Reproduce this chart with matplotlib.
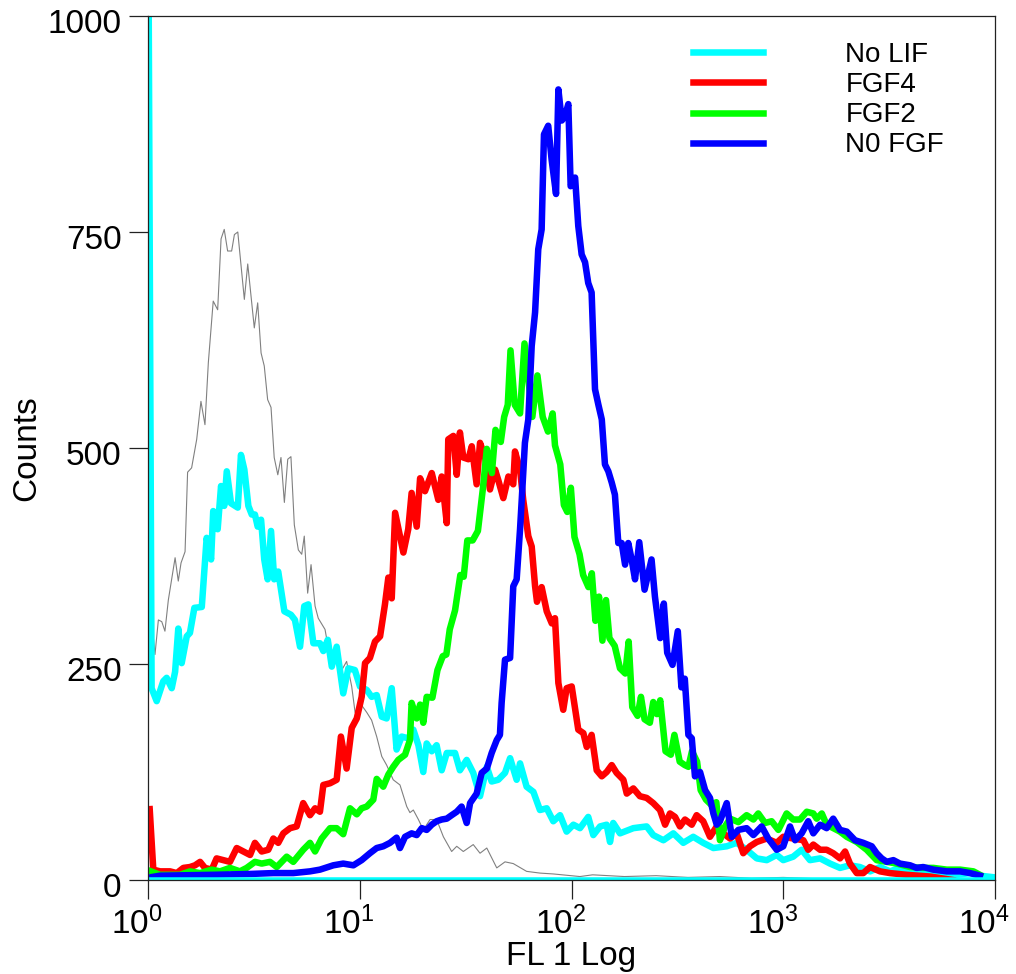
import matplotlib
matplotlib.use("Agg")
import matplotlib.pyplot as plt
import matplotlib.transforms as mtransforms
from matplotlib.ticker import FixedLocator, FuncFormatter
import numpy as np

plt.rcParams['font.family'] = ['Liberation Sans', 'DejaVu Sans']

# log10(FL1) positions and counts
gray_log = [0.0, 0.017, 0.033, 0.049, 0.065, 0.080, 0.096, 0.128, 0.143, 0.156,
            0.175, 0.187, 0.206, 0.230, 0.250, 0.269, 0.285, 0.308, 0.329, 0.345,
            0.360, 0.376, 0.395, 0.408, 0.424, 0.455, 0.471, 0.502, 0.518, 0.534,
            0.549, 0.565, 0.581, 0.596, 0.613, 0.628, 0.644, 0.660, 0.675, 0.691,
            0.710, 0.726, 0.738, 0.754, 0.770, 0.789, 0.804, 0.836, 0.860, 0.880,
            0.896, 0.915, 0.938, 0.962, 0.978, 1.001, 1.033, 1.056, 1.080, 1.104,
            1.127, 1.158, 1.190, 1.222, 1.237, 1.253, 1.277, 1.300, 1.332, 1.363,
            1.395, 1.434, 1.458, 1.489, 1.536, 1.568, 1.600, 1.647, 1.686, 1.725,
            1.788, 1.851, 1.914, 2.040, 2.10, 2.25, 2.40, 2.55, 2.70, 2.85,
            3.00, 3.20, 3.50]
gray_counts = [1200, 301, 261, 301, 299, 288, 324, 373, 346, 367,
               380, 472, 477, 510, 554, 527, 599, 670, 660, 742,
               753, 728, 728, 747, 750, 672, 713, 639, 668, 610,
               595, 556, 547, 489, 469, 489, 437, 487, 490, 411,
               382, 377, 398, 332, 365, 317, 303, 290, 257, 261,
               255, 243, 253, 224, 194, 205, 194, 185, 166, 143,
               133, 116, 110, 85, 78, 81, 70, 58, 70, 70,
               50, 33, 39, 33, 41, 31, 37, 14, 21, 19,
               10, 8, 7, 4, 6, 4, 5, 3, 4, 2,
               3, 1, 0]

nolif_log = [0.0, 0.017, 0.041, 0.072, 0.088, 0.112, 0.128, 0.143, 0.159, 0.183,
             0.198, 0.219, 0.254, 0.277, 0.298, 0.308, 0.329, 0.345, 0.360, 0.372,
             0.392, 0.424, 0.439, 0.455, 0.474, 0.490, 0.505, 0.518, 0.534, 0.549,
             0.565, 0.581, 0.596, 0.615, 0.644, 0.675, 0.694, 0.718, 0.738, 0.757,
             0.781, 0.812, 0.828, 0.849, 0.868, 0.891, 0.922, 0.946, 0.977, 1.001,
             1.033, 1.056, 1.080, 1.104, 1.127, 1.151, 1.174, 1.198, 1.229, 1.253,
             1.277, 1.300, 1.316, 1.340, 1.363, 1.387, 1.411, 1.450, 1.473, 1.505,
             1.536, 1.568, 1.600, 1.623, 1.654, 1.686, 1.710, 1.741, 1.757, 1.788,
             1.820, 1.851, 1.883, 1.914, 1.946, 1.977, 2.009, 2.040, 2.079, 2.103,
             2.135, 2.166, 2.182, 2.197, 2.229, 2.292, 2.355, 2.386, 2.434, 2.481,
             2.528, 2.575, 2.622, 2.670, 2.733, 2.780, 2.827, 2.875, 2.922, 2.969,
             3.000, 3.047, 3.087, 3.126, 3.174, 3.221, 3.268, 3.315, 3.362, 3.410,
             3.457, 3.504, 3.551, 3.599, 3.646, 3.693, 3.754, 3.819, 3.882, 3.929,
             4.0]
nolif_counts = [1200, 222, 207, 230, 234, 222, 241, 291, 251, 282,
                286, 315, 316, 396, 371, 427, 406, 456, 433, 473,
                436, 431, 492, 475, 433, 423, 423, 409, 417, 371,
                348, 404, 348, 357, 311, 307, 301, 270, 317, 319,
                274, 274, 265, 278, 247, 270, 216, 245, 243, 224,
                220, 212, 214, 189, 187, 222, 151, 166, 164, 174,
                156, 125, 158, 149, 156, 127, 147, 147, 127, 139,
                124, 97, 131, 114, 116, 124, 141, 116, 135, 108,
                102, 81, 83, 68, 75, 56, 64, 60, 73, 52,
                62, 64, 44, 66, 54, 60, 62, 52, 46, 54,
                43, 50, 43, 37, 39, 43, 35, 25, 23, 29,
                23, 27, 35, 23, 25, 19, 14, 17, 15, 10,
                15, 10, 14, 8, 12, 8, 8, 6, 8, 5,
                3]

fgf4_log = [0.008, 0.025, 0.057, 0.104, 0.136, 0.167, 0.198, 0.222, 0.246, 0.269,
            0.301, 0.324, 0.356, 0.387, 0.419, 0.450, 0.482, 0.505, 0.537, 0.568,
            0.592, 0.615, 0.639, 0.671, 0.702, 0.733, 0.765, 0.789, 0.812, 0.828,
            0.860, 0.891, 0.911, 0.938, 0.962, 0.986, 1.009, 1.025, 1.048, 1.072,
            1.096, 1.119, 1.135, 1.151, 1.167, 1.190, 1.206, 1.229, 1.245, 1.269,
            1.285, 1.308, 1.340, 1.371, 1.387, 1.411, 1.418, 1.442, 1.458, 1.473,
            1.489, 1.513, 1.529, 1.552, 1.568, 1.592, 1.615, 1.639, 1.654, 1.678,
            1.702, 1.725, 1.733, 1.757, 1.772, 1.796, 1.812, 1.828, 1.837, 1.859,
            1.883, 1.907, 1.922, 1.938, 1.961, 1.977, 2.001, 2.032, 2.056, 2.072,
            2.095, 2.119, 2.143, 2.166, 2.190, 2.213, 2.245, 2.261, 2.292, 2.323,
            2.355, 2.386, 2.418, 2.442, 2.465, 2.489, 2.512, 2.536, 2.568, 2.591,
            2.622, 2.654, 2.686, 2.717, 2.749, 2.780, 2.811, 2.843, 2.875, 2.922,
            2.969, 3.000, 3.047, 3.095, 3.118, 3.142, 3.174, 3.205, 3.236, 3.268,
            3.292, 3.315, 3.347, 3.378, 3.410, 3.457, 3.504, 3.583, 3.693, 3.80]
fgf4_counts = [82, 12, 10, 10, 8, 14, 15, 17, 21, 14,
               12, 25, 23, 21, 37, 33, 29, 43, 33, 35,
               48, 43, 54, 60, 62, 89, 75, 83, 79, 110,
               112, 116, 166, 129, 176, 187, 212, 251, 257, 276,
               282, 319, 350, 326, 425, 398, 379, 406, 448, 409,
               465, 450, 471, 440, 467, 413, 510, 514, 469, 518,
               489, 487, 502, 458, 506, 489, 452, 475, 463, 442,
               467, 458, 496, 475, 440, 398, 386, 340, 322, 339,
               311, 297, 303, 228, 197, 222, 224, 174, 170, 154,
               168, 127, 120, 125, 133, 124, 116, 100, 106, 97,
               95, 89, 81, 64, 77, 73, 62, 70, 64, 75,
               68, 50, 62, 54, 48, 54, 31, 39, 44, 48,
               43, 50, 48, 46, 35, 41, 35, 35, 31, 25,
               33, 19, 8, 8, 15, 10, 8, 6, 4, 0]

fgf2_log = [0.014, 0.057, 0.151, 0.198, 0.246, 0.301, 0.340, 0.387, 0.434, 0.466,
            0.505, 0.537, 0.576, 0.608, 0.655, 0.686, 0.733, 0.765, 0.789, 0.820,
            0.860, 0.891, 0.922, 0.954, 0.986, 1.009, 1.033, 1.064, 1.080, 1.111,
            1.135, 1.158, 1.182, 1.214, 1.237, 1.245, 1.269, 1.285, 1.300, 1.316,
            1.343, 1.367, 1.392, 1.409, 1.425, 1.450, 1.475, 1.491, 1.508, 1.533,
            1.558, 1.582, 1.600, 1.624, 1.641, 1.666, 1.682, 1.699, 1.712, 1.732,
            1.757, 1.778, 1.798, 1.815, 1.839, 1.864, 1.889, 1.911, 1.922, 1.947,
            1.964, 1.980, 1.997, 2.014, 2.038, 2.055, 2.080, 2.096, 2.113, 2.130,
            2.146, 2.163, 2.179, 2.204, 2.229, 2.254, 2.270, 2.287, 2.312, 2.328,
            2.345, 2.370, 2.386, 2.403, 2.419, 2.444, 2.469, 2.486, 2.511, 2.535,
            2.552, 2.569, 2.593, 2.610, 2.635, 2.660, 2.684, 2.701, 2.725, 2.749,
            2.788, 2.827, 2.859, 2.882, 2.914, 2.945, 2.977, 3.016, 3.047, 3.079,
            3.111, 3.142, 3.158, 3.182, 3.205, 3.236, 3.268, 3.300, 3.347, 3.394,
            3.441, 3.489, 3.536, 3.599, 3.661, 3.709, 3.772, 3.835, 3.898, 3.929]
fgf2_counts = [10, 6, 6, 10, 8, 12, 10, 14, 10, 14,
               21, 19, 21, 15, 27, 21, 35, 43, 33, 48,
               60, 60, 53, 83, 76, 83, 85, 93, 117, 108,
               122, 131, 139, 145, 162, 205, 187, 203, 182, 212,
               211, 243, 259, 261, 290, 312, 353, 351, 393, 393,
               404, 454, 499, 471, 521, 507, 536, 550, 613, 550,
               540, 621, 576, 536, 584, 536, 519, 540, 503, 481,
               434, 426, 454, 397, 377, 353, 339, 355, 300, 328,
               277, 324, 280, 271, 245, 239, 276, 200, 190, 212,
               186, 182, 206, 192, 208, 149, 145, 168, 137, 133,
               131, 149, 137, 104, 93, 87, 90, 46, 62, 71,
               67, 75, 70, 77, 66, 68, 58, 77, 70, 70,
               79, 77, 71, 77, 64, 60, 56, 50, 44, 35,
               23, 21, 19, 15, 14, 14, 12, 12, 10, 6]

nofgf_log = [0.008, 0.057, 0.308, 0.482, 0.592, 0.686, 0.765, 0.812, 0.875, 0.922,
             0.970, 1.009, 1.048, 1.080, 1.111, 1.143, 1.174, 1.190, 1.214, 1.245,
             1.269, 1.293, 1.316, 1.340, 1.363, 1.387, 1.411, 1.434, 1.458, 1.481,
             1.505, 1.521, 1.552, 1.576, 1.600, 1.623, 1.647, 1.662, 1.670, 1.686,
             1.710, 1.725, 1.741, 1.757, 1.765, 1.780, 1.796, 1.812, 1.828, 1.843,
             1.859, 1.870, 1.890, 1.906, 1.927, 1.938, 1.954, 1.969, 1.985, 1.996,
             2.017, 2.032, 2.048, 2.064, 2.079, 2.095, 2.111, 2.127, 2.143, 2.158,
             2.174, 2.190, 2.205, 2.221, 2.237, 2.253, 2.268, 2.284, 2.300, 2.320,
             2.345, 2.378, 2.394, 2.419, 2.436, 2.452, 2.477, 2.502, 2.519, 2.535,
             2.552, 2.568, 2.583, 2.607, 2.631, 2.654, 2.670, 2.686, 2.701, 2.733,
             2.757, 2.788, 2.827, 2.859, 2.898, 2.929, 2.969, 3.000, 3.032, 3.056,
             3.087, 3.118, 3.142, 3.174, 3.205, 3.236, 3.268, 3.300, 3.339, 3.378,
             3.418, 3.441, 3.465, 3.489, 3.520, 3.551, 3.599, 3.630, 3.661, 3.709,
             3.772, 3.835, 3.882, 3.929]
nofgf_counts = [3, 5, 6, 7, 8, 8, 10, 12, 17, 19,
                17, 23, 31, 37, 39, 43, 49, 37, 50, 54,
                52, 60, 58, 64, 68, 70, 71, 75, 79, 85,
                66, 89, 100, 124, 129, 147, 162, 168, 205, 255,
                257, 340, 348, 406, 440, 506, 533, 618, 657, 730,
                753, 863, 873, 834, 794, 915, 879, 884, 898, 803,
                813, 757, 724, 715, 691, 680, 568, 550, 533, 481,
                473, 460, 446, 390, 390, 365, 390, 371, 348, 391,
                336, 371, 328, 280, 320, 263, 249, 288, 223, 233,
                168, 164, 120, 125, 104, 95, 77, 64, 68, 89,
                50, 58, 60, 52, 62, 48, 35, 39, 62, 46,
                54, 68, 54, 64, 60, 71, 58, 56, 46, 43,
                39, 31, 25, 21, 23, 19, 17, 14, 15, 12,
                10, 10, 8, 5]

labels = ['No LIF', 'FGF4', 'FGF2', 'N0 FGF']
colors = ['#00ffff', '#ff0000', '#00ff00', '#0000ff']
decades = [0, 1, 2, 3, 4]
count_ticks = [0, 250, 500, 750, 1000]

fig = plt.figure(figsize=(10.16, 9.74), dpi=100)
ax = fig.add_axes([148 / 1016, 1 - 880 / 974, 847 / 1016, 864 / 974])

ax.plot(10 ** np.array(gray_log), gray_counts, color='#808080', lw=0.8, zorder=2)

series = [(nolif_log, nolif_counts), (fgf4_log, fgf4_counts),
          (fgf2_log, fgf2_counts), (nofgf_log, nofgf_counts)]
for (lg, cnt), lab, col in zip(series, labels, colors):
    ax.plot(10 ** np.array(lg), cnt, color=col, lw=4.7, label=lab,
            solid_joinstyle='round', zorder=2.1)

# zero-count line of the No LIF histogram along the bottom
ax.axhline(0, color=colors[0], lw=4.7, zorder=2.4)

ax.set_xscale('log')
ax.set_xlim(1, 1e4)
ax.set_ylim(0, 1000)
ax.xaxis.set_major_locator(FixedLocator([10.0 ** d for d in decades]))
ax.xaxis.set_minor_locator(FixedLocator([]))
ax.xaxis.set_major_formatter(FuncFormatter(
    lambda v, p: r'$\mathregular{10^{%d}}$' % round(np.log10(v))))
ax.set_yticks(count_ticks)

for sp in ax.spines.values():
    sp.set_color('#222222')
    sp.set_linewidth(0.9)
    sp.set_zorder(3)

ax.tick_params(direction='out', length=14, width=0.9, color='#222222',
               labelsize=24, pad=5)

# shift labels like the original software does
dx = mtransforms.ScaledTranslation(-11 / 100, 0, fig.dpi_scale_trans)
for lab in ax.get_xticklabels():
    lab.set_transform(lab.get_transform() + dx)
dy = mtransforms.ScaledTranslation(0, -5 / 100, fig.dpi_scale_trans)
for lab in ax.get_yticklabels():
    lab.set_transform(lab.get_transform() + dy)

ax.set_xlabel('FL 1 Log', fontsize=24, labelpad=0)
ax.set_ylabel('Counts', fontsize=24, labelpad=4)

ax.legend(loc='upper left', bbox_to_anchor=(0.643, 0.970), frameon=False,
          fontsize=20, handlelength=2.55, handletextpad=2.95,
          labelspacing=0.15, borderpad=0, borderaxespad=0)

fig.savefig('out.png', dpi=100)
